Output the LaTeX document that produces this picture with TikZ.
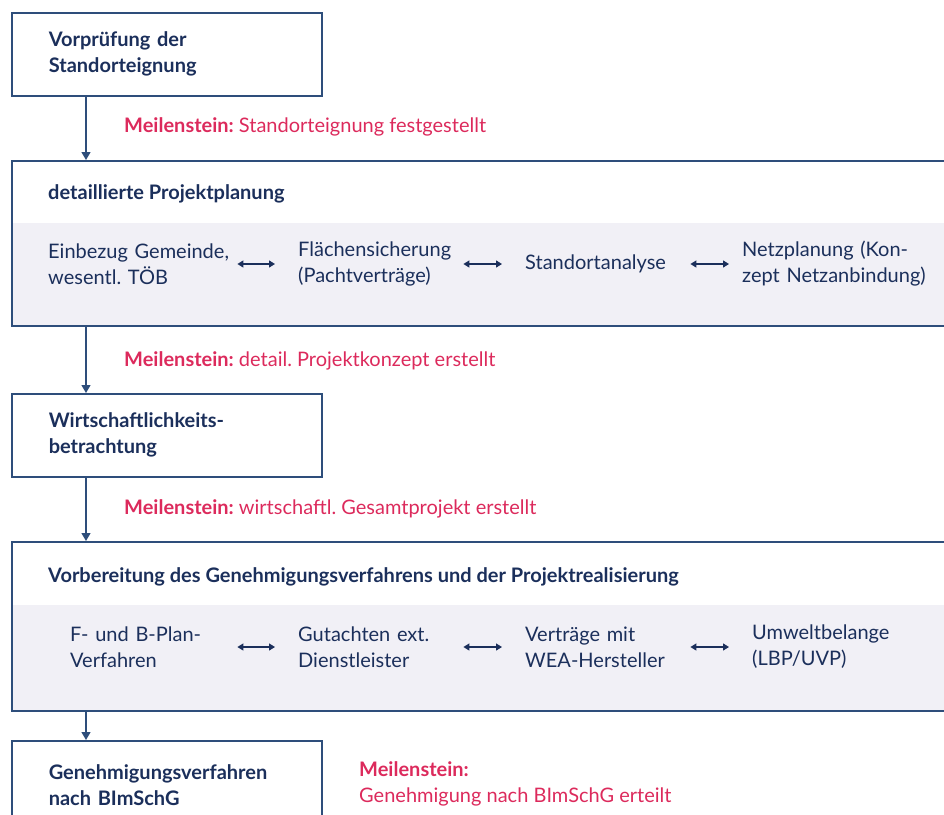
\documentclass[tikz,border=0pt]{standalone}
\usepackage{fontspec}
\setmainfont{Lato}
\usetikzlibrary{arrows.meta,positioning,calc,backgrounds}
\definecolor{navy}{HTML}{1B2F5B}
\definecolor{frame}{HTML}{2E4E7B}
\definecolor{mile}{HTML}{DC2A5C}
\definecolor{band}{HTML}{F1F0F6}
\newcommand{\ms}{\textbf{Meilenstein:}}
\frenchspacing

\begin{document}
\begin{tikzpicture}[x=1pt,y=-1pt,
 stage/.style={draw=frame,line width=1.5pt,fill=white,anchor=north west,minimum width=310pt,minimum height=83pt,text width=236pt,inner xsep=37pt,inner ysep=0pt,align=left,font=\fontsize{20}{26}\selectfont\bfseries,text=navy},
 panel/.style={draw=frame,line width=1.5pt,anchor=north west,minimum width=949pt,inner sep=0pt},
 head/.style={anchor=west,inner sep=0pt,font=\fontsize{20}{26}\selectfont\bfseries,text=navy},
 item/.style={anchor=west,inner sep=0pt,text width=#1,align=left,font=\fontsize{20}{26}\selectfont,text=navy},
 milestone/.style={anchor=west,inner sep=0pt,align=left,font=\fontsize{20}{26}\selectfont,text=mile},
 flow/.style={draw=frame,line width=1.3pt,-{Triangle[length=8pt,width=9pt]}},
 link/.style={draw=navy,line width=1.3pt,{Triangle[length=6pt,width=7pt]}-{Triangle[length=6pt,width=7pt]}}]
\clip (0,0) rectangle (944,814);

\node[stage] (vor) at (11,12) {Vorprüfung der\\Standorteignung};
\node[milestone] (m1) at (124,127) {\ms{} Standorteignung festgestellt};

\node[panel,minimum height=165pt] (plan) at (11,160) {};
\begin{scope}[on background layer]
\fill[band] ([yshift=-63pt]plan.north west) rectangle (plan.south east);
\end{scope}
\node[head] (planT) at ([xshift=37pt,yshift=-34pt]plan.north west) {detaillierte Projektplanung};
\node[item=189pt] (ein) at (48,264) {Einbezug Gemeinde,\\wesentl. TÖB};
\node[item=165pt] (flae) at (298,264) {Flächensicherung\\(Pachtverträge)};
\node[item=165pt] (stand) at (525,264) {Standortanalyse};
\node[item=195pt] (netz) at (742,264) {Netzplanung (Kon-\\zept Netzanbindung)};
\draw[link,shorten >=23pt] (ein.east) -- (flae.west);
\draw[link,shorten >=23pt] (flae.east) -- (stand.west);
\draw[link,shorten >=13pt] (stand.east) -- (netz.west);
\node[milestone] (m2) at (124,361) {\ms{} detail. Projektkonzept erstellt};

\node[stage] (wirt) at (11,393) {Wirtschaftlichkeits-\\betrachtung};
\node[milestone] (m3) at (124,509) {\ms{} wirtschaftl. Gesamtprojekt erstellt};

\node[panel,minimum height=169pt] (vorb) at (11,541) {};
\begin{scope}[on background layer]
\fill[band] ([yshift=-64pt]vorb.north west) rectangle (vorb.south east);
\end{scope}
\node[head] (vorbT) at ([xshift=37pt,yshift=-36pt]vorb.north west) {Vorbereitung des Genehmigungsverfahrens und der Projektrealisierung};
\node[item=167pt] (fb) at (70,647) {F- und B-Plan-\\Verfahren};
\node[item=165pt] (gut) at (298,647) {Gutachten ext.\\Dienstleister};
\node[item=165pt] (vert) at (525,647) {Verträge mit\\WEA-Hersteller};
\node[item=180pt] (umw) at (752,647) {Umweltbelange\\(LBP/UVP)};
\draw[link,shorten >=23pt] (fb.east) -- (gut.west);
\draw[link,shorten >=23pt] (gut.east) -- (vert.west);
\draw[link,shorten >=23pt] (vert.east) -- (umw.west);

\node[stage,minimum height=88pt] (gen) at (11,740) {Genehmigungsverfahren\\nach BImSchG};
\node[milestone] (m4) at (359,784) {\ms\\Genehmigung nach BImSchG erteilt};

\draw[flow] ([xshift=75pt]vor.south west) -- ([xshift=75pt]plan.north west);
\draw[flow] ([xshift=75pt]plan.south west) -- ([xshift=75pt]wirt.north west);
\draw[flow] ([xshift=75pt]wirt.south west) -- ([xshift=75pt]vorb.north west);
\draw[flow] ([xshift=75pt]vorb.south west) -- ([xshift=75pt]gen.north west);
\end{tikzpicture}
\end{document}
